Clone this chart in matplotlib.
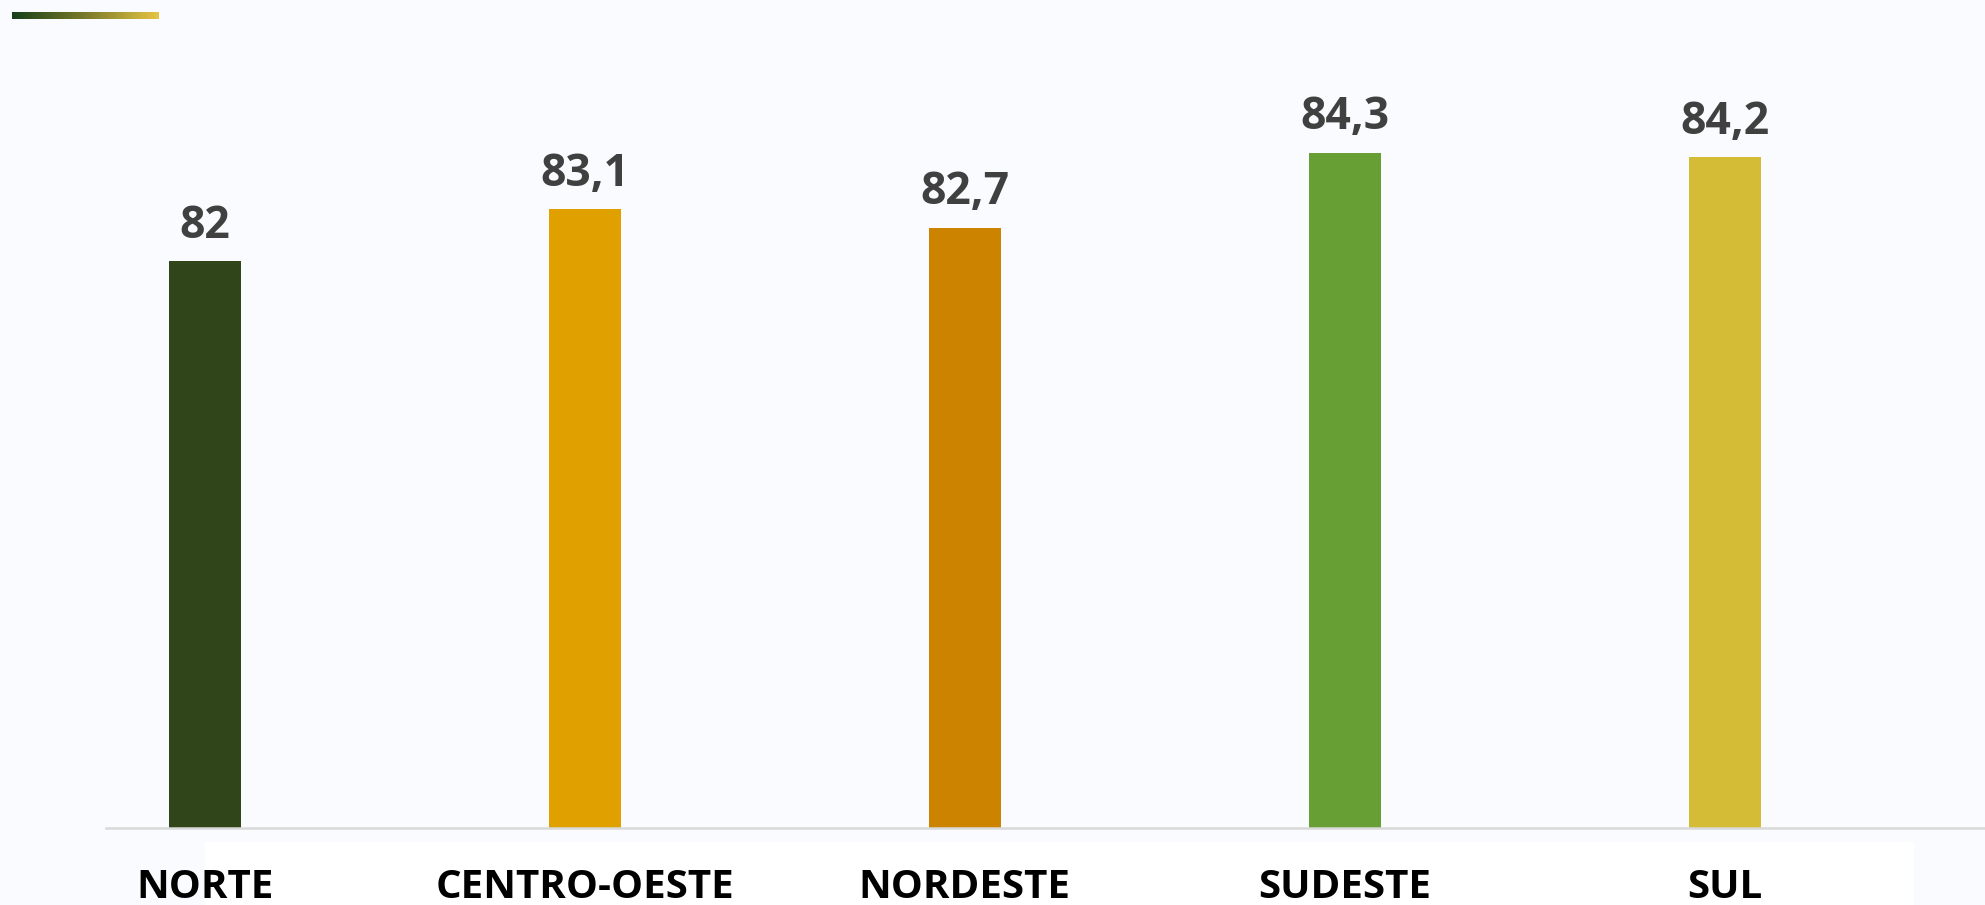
import matplotlib.pyplot as plt
import numpy as np
from matplotlib.colors import LinearSegmentedColormap
from matplotlib.patches import Rectangle

regions = ["NORTE", "CENTRO-OESTE", "NORDESTE", "SUDESTE", "SUL"]
values = [82, 83.1, 82.7, 84.3, 84.2]
labels = ["82", "83,1", "82,7", "84,3", "84,2"]
colors = ["#30461A", "#E0A100", "#CC8400", "#689F34", "#D4BC36"]

bg = "#F9FBFF"
plt.rcParams['font.family'] = ['Open Sans', 'DejaVu Sans']

fig = plt.figure(figsize=(19.85, 9.05), dpi=100, facecolor=bg)

# white strip behind the category labels
fig.add_artist(Rectangle((205 / 1985, 0), (1914 - 205) / 1985, 63 / 905,
                         transform=fig.transFigure, facecolor="white",
                         edgecolor="none", zorder=-1))

ax = fig.add_axes([106 / 1985, 77 / 905, 1 - 106 / 1985, 778 / 905])
ax.set_facecolor(bg)
x = np.arange(len(regions))
ax.bar(x, values, width=0.19, color=colors, zorder=2)
ax.set_ylim(70, 86.47)
ax.set_xlim(-0.26, 4.685)

for xi, v, lab in zip(x, values, labels):
    ax.annotate(lab, (xi, v), xytext=(0, 17), textcoords='offset points',
                ha='center', va='baseline', fontsize=32, fontweight='bold',
                color="#404040")

ax.set_xticks(x)
ax.set_xticklabels(regions, fontsize=29, fontweight='bold', color="black")
ax.tick_params(axis='x', length=0, pad=29)
ax.set_yticks([])
for s in ["top", "right", "left"]:
    ax.spines[s].set_visible(False)
ax.spines["bottom"].set_color("#D9D9D9")
ax.spines["bottom"].set_linewidth(1.8)

# gradient accent bar in top-left corner
gax = fig.add_axes([12 / 1985, (905 - 19) / 905, 146 / 1985, 7 / 905])
cmap = LinearSegmentedColormap.from_list("acc", ["#17401A", "#7A7A2A", "#E5C542"])
gax.imshow(np.linspace(0, 1, 256)[None, :], aspect='auto', cmap=cmap)
gax.axis('off')

plt.savefig("out.png", dpi=100, facecolor=bg)
